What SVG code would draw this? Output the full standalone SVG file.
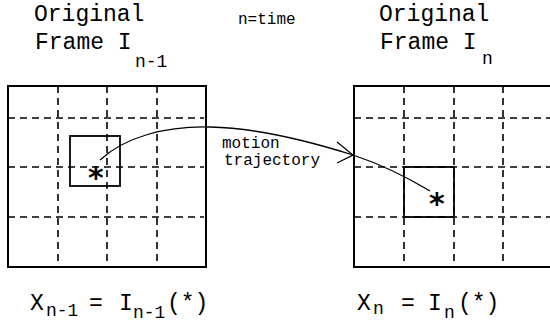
<svg xmlns="http://www.w3.org/2000/svg" width="550" height="327" viewBox="0 0 550 327">
<style>
.t{font-family:"Liberation Mono","Courier New",monospace;fill:#000}
.big{font-size:23px}
.sub{font-size:18px}
.sm{font-size:16px}
.frame{fill:none;stroke:#000;stroke-width:2}
.grid{fill:none;stroke:#000;stroke-width:1.6;stroke-dasharray:7 5}
.blk{fill:none;stroke:#000;stroke-width:1.8}
.conn{fill:none;stroke:#000;stroke-width:1.3}
.star{font-family:"DejaVu Sans",sans-serif;font-weight:bold;font-size:30px;fill:#000}
</style>
<rect width="550" height="327" fill="#fff"/>
<text class="t sm" x="238" y="24">n=time</text>
<g id="frame-prev">
<text class="t big" x="34" y="21">Original</text>
<text class="t big" x="35" y="49">Frame I</text>
<text class="t sub" x="135" y="67">n-1</text>
<path class="grid" d="M58,86V267M107,86V267M157,86V267M8,118H204M8,167H204M8,217H204"/>
<rect class="frame" x="8" y="86" width="198" height="181"/>
<rect class="blk" x="70" y="136" width="50" height="50"/>
<text class="star" x="88" y="188">*</text>
</g>
<g id="frame-cur">
<text class="t big" x="379" y="21">Original</text>
<text class="t big" x="380" y="49">Frame I</text>
<text class="t sub" x="482" y="64">n</text>
<path class="grid" d="M404,86V267M454,86V267M503,86V267M354,118H550M354,167H550M354,217H550"/>
<path class="frame" d="M550,86H354V267H550"/>
<rect class="blk" x="404" y="167" width="50" height="50"/>
<text class="star" x="429" y="214">*</text>
</g>
<g id="label-motion">
<text class="t sm" x="222" y="148">motion</text>
<text class="t sm" x="224" y="165">trajectory</text>
</g>
<g id="connectors">
<path class="conn" d="M100,160C125,137 165,126 210,127C260,128 315,143 353,155C380,164 405,176 430,191"/>
<path class="conn" d="M337,142L353,155L337,163"/>
</g>
<g id="eq-prev">
<text class="t big" x="30" y="310">X</text>
<text class="t sub" x="46" y="316">n-1</text>
<text class="t big" x="89" y="310">=</text>
<text class="t big" x="119" y="310">I</text>
<text class="t sub" x="133" y="318">n-1</text>
<text class="t big" x="167" y="310">(*)</text>
</g>
<g id="eq-cur">
<text class="t big" x="357" y="310">X</text>
<text class="t sub" x="373" y="314">n</text>
<text class="t big" x="401" y="310">=</text>
<text class="t big" x="428" y="310">I</text>
<text class="t sub" x="444" y="318">n</text>
<text class="t big" x="458" y="310">(*)</text>
</g>
</svg>
